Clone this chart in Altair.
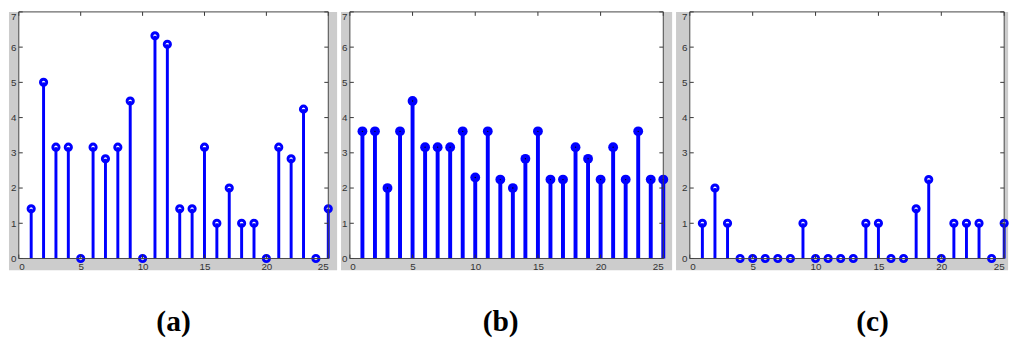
import altair as alt
import pandas as pd

# ---- data ----
x_vals = list(range(1, 26))
a_vals = [1.41, 5.0, 3.16, 3.16, 0, 3.16, 2.83, 3.16, 4.47, 0, 6.32, 6.08, 1.41,
          1.41, 3.16, 1.0, 2.0, 1.0, 1.0, 0, 3.16, 2.83, 4.24, 0, 1.41]
b_vals = [3.61, 3.61, 2.0, 3.61, 4.47, 3.16, 3.16, 3.16, 3.61, 2.3, 3.61, 2.24, 2.0,
          2.83, 3.61, 2.24, 2.24, 3.16, 2.83, 2.24, 3.16, 2.24, 3.61, 2.24, 2.24]
c_vals = [1, 2, 1, 0, 0, 0, 0, 0, 1, 0, 0, 0, 0, 1, 1, 0, 0, 1.41, 2.24, 0,
          1, 1, 1, 0, 1]
panel_labels = ["(a)", "(b)", "(c)"]
x_ticks = [0, 5, 10, 15, 20, 25]
y_ticks = [0, 1, 2, 3, 4, 5, 6, 7]

H = 251
BLUE = "#0000ff"
GRAY = "#cccccc"
TXT = "#333333"


def panel(vals, label, W, filled, gl, gr, tdx):
    df = pd.DataFrame({"x": x_vals, "y": vals})
    one = pd.DataFrame({"k": [0]})
    xs = alt.Scale(domain=[0, 25], nice=False, zero=False)
    ys = alt.Scale(domain=[0, 7], nice=False)
    xax = alt.Axis(values=x_ticks, title=None, domain=False, ticks=False, grid=False,
                   labelFontSize=10, labelColor=TXT, labelPadding=3, zindex=1,
                   labelFont="Liberation Sans")
    yax = alt.Axis(values=y_ticks, title=None, domain=False, ticks=False, grid=False,
                   labelFontSize=10, labelColor=TXT, labelPadding=3, zindex=1,
                   labelFont="Liberation Sans",
                   labelBaseline=alt.condition("datum.value == 7",
                                               alt.value("top"), alt.value("middle")))

    def X(f):
        return alt.X(f, scale=xs, axis=xax)

    def Y(f):
        return alt.Y(f, scale=ys, axis=yax)

    bg = alt.Chart(one).mark_rect(color=GRAY).encode(
        x=alt.value(-gl), x2=alt.value(W + gr), y=alt.value(0), y2=alt.value(H + 12))
    plot_bg = alt.Chart(one).mark_rect(color="white").encode(
        x=alt.value(0), x2=alt.value(W), y=alt.value(0), y2=alt.value(H))

    sw = 4 if filled else 3
    stems = alt.Chart(df).mark_rule(color=BLUE, strokeWidth=sw, strokeCap="butt").encode(
        x=X("x:Q"), y=Y("y:Q"), y2=alt.datum(0))
    if filled:
        pts = alt.Chart(df).mark_point(shape="circle", filled=True, color=BLUE,
                                       size=100, opacity=1).encode(x=X("x:Q"), y=Y("y:Q"))
        dots = alt.Chart(df).mark_point(shape="circle", filled=True, color="black",
                                        size=2, opacity=1).encode(x=X("x:Q"), y=Y("y:Q"))
        marks = [stems, pts, dots]
    else:
        pts = alt.Chart(df).mark_point(shape="circle", filled=False, color=BLUE,
                                       size=40, strokeWidth=3, opacity=1).encode(
            x=X("x:Q"), y=Y("y:Q"))
        marks = [stems, pts]

    xt = pd.DataFrame({"x": x_ticks})
    yt = pd.DataFrame({"y": y_ticks})
    tk = dict(color=TXT, strokeWidth=1)
    t_bottom = alt.Chart(xt).mark_rule(**tk).encode(
        x=X("x:Q"), y=alt.value(H), y2=alt.value(H - 4))
    t_top = alt.Chart(xt).mark_rule(**tk).encode(
        x=X("x:Q"), y=alt.value(0), y2=alt.value(4))
    t_left = alt.Chart(yt).mark_rule(**tk).encode(
        y=Y("y:Q"), x=alt.value(0), x2=alt.value(4))
    t_right = alt.Chart(yt).mark_rule(**tk).encode(
        y=Y("y:Q"), x=alt.value(W), x2=alt.value(W - 4))

    frame = alt.Chart(one).mark_rect(fillOpacity=0, stroke="#444444", strokeWidth=1).encode(
        x=alt.value(0), x2=alt.value(W), y=alt.value(0), y2=alt.value(H))

    lab = alt.Chart(pd.DataFrame({"label": [label]})).mark_text(
        font="Liberation Serif", fontSize=30, fontWeight="bold", color="black",
        align="center", baseline="middle").encode(
        text="label:N", x=alt.value(W / 2 + tdx), y=alt.value(H + 65))

    return alt.layer(bg, plot_bg, *marks, t_bottom, t_top, t_left, t_right, frame, lab
                     ).properties(width=W, height=H)


pa = panel(a_vals, panel_labels[0], 315, False, 10, 9, 0)
pb = panel(b_vals, panel_labels[1], 319, True, 9, 9, -6)
pc = panel(c_vals, panel_labels[2], 320, False, 14, 4, 26)

chart = alt.hconcat(pa, pb, pc, spacing=2).properties(
    padding={"left": 0, "top": 0, "right": 0, "bottom": 0}
).configure_view(stroke=None).configure(background="white")

chart.save("out.html", embed_options={"renderer": "svg", "actions": False})
